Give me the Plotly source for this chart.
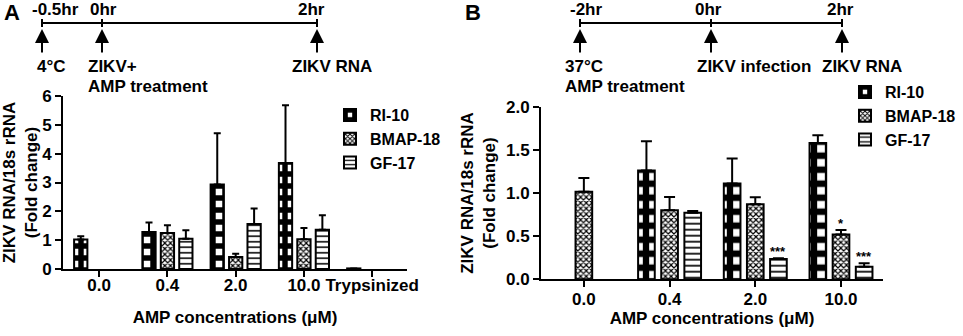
import plotly.graph_objects as go

# ---------------- data ----------------
series_names = ["RI-10", "BMAP-18", "GF-17"]

categories_A = ["0.0", "0.4", "2.0", "10.0", "Trypsinized"]
ri10_A = [1.02, 1.28, 2.93, 3.68, 0.02]
ri10_A_err = [0.12, 0.33, 1.78, 2.0, 0.0]
bmap_A = [None, 1.25, 0.42, 1.03, None]
bmap_A_err = [0.0, 0.27, 0.11, 0.39, 0.0]
gf_A = [None, 1.05, 1.56, 1.36, None]
gf_A_err = [0.0, 0.29, 0.54, 0.50, 0.0]

categories_B = ["0.0", "0.4", "2.0", "10.0"]
ri10_B = [None, 1.26, 1.11, 1.58]
ri10_B_err = [0.0, 0.34, 0.29, 0.09]
bmap_B = [1.015, 0.80, 0.87, 0.52]
bmap_B_err = [0.16, 0.155, 0.08, 0.05]
gf_B = [None, 0.77, 0.235, 0.145]
gf_B_err = [0.0, 0.02, 0.01, 0.04]

stars_B_bmap = ["", "", "", "*"]
stars_B_gf = ["", "", "***", "***"]

yticks_A = [0, 1, 2, 3, 4, 5, 6]
yticks_B = [0.0, 0.5, 1.0, 1.5, 2.0]

timeline_A = ["-0.5hr", "0hr", "2hr"]
timeline_A_labels = [["4°C"], ["ZIKV+", "AMP treatment"], ["ZIKV RNA"]]
timeline_B = ["-2hr", "0hr", "2hr"]
timeline_B_labels = [["37°C", "AMP treatment"], ["ZIKV infection"], ["ZIKV RNA"]]

# ---------------- styling ----------------
W, H = 963, 336
FONT = "Liberation Sans"
FS = 17

def pats(check_size, fine_size, line_size):
    return [
        dict(shape="+", size=check_size, solidity=0.7, fgcolor="black", bgcolor="white"),
        dict(shape="x", size=fine_size, solidity=0.5, fgcolor="black", bgcolor="white"),
        dict(shape="-", size=line_size, solidity=0.28, fgcolor="black", bgcolor="white"),
    ]

def px(x):
    return x / W

def py(y):
    return 1 - y / H

fig = go.Figure()

def add_panel(cats, vals, errs, xa, ya, legend, cap, patterns):
    for name, v, e, pat in zip(series_names, vals, errs, patterns):
        fig.add_trace(go.Bar(
            x=cats, y=v, name=name,
            xaxis=xa, yaxis=ya, legend=legend,
            marker=dict(color="white", line=dict(color="black", width=2), pattern=pat),
            error_y=dict(type="data", symmetric=False, array=e,
                         arrayminus=[0] * len(e), color="black",
                         thickness=2, width=cap),
        ))

add_panel(categories_A, [ri10_A, bmap_A, gf_A], [ri10_A_err, bmap_A_err, gf_A_err],
          "x", "y", "legend", 3.5, pats(12, 4, 5.5))
add_panel(categories_B, [ri10_B, bmap_B, gf_B], [ri10_B_err, bmap_B_err, gf_B_err],
          "x2", "y2", "legend2", 5.5, pats(14, 4, 6))

dom_A_x = [px(63), px(407)]
dom_A_y = [py(269), py(96)]
dom_B_x = [px(541), px(883)]
dom_B_y = [py(279.3), py(106.7)]

tickfont = dict(family=FONT, size=FS, color="black", weight="bold")
titlefont = dict(family=FONT, size=FS, color="black", weight="bold")
legfont = dict(family=FONT, size=16, color="black", weight="bold")

axis_common = dict(showline=True, linecolor="black", linewidth=2, ticks="outside",
                   tickwidth=2, ticklen=6, tickcolor="black", showgrid=False,
                   zeroline=False, tickfont=tickfont, automargin=False)

xr_A = [-0.53, 4.51]
xr_B = [-0.5, 3.49]

fig.update_layout(
    template="none",
    width=W, height=H, margin=dict(l=0, r=0, t=0, b=0, autoexpand=False),
    paper_bgcolor="white", plot_bgcolor="white",
    font=dict(family=FONT, size=FS, color="black", weight="bold"),
    barmode="group", bargap=0.19, bargroupgap=0.28,
    xaxis=dict(domain=dom_A_x, anchor="y", type="category", range=xr_A,
               ticklabelstandoff=-6,
               title=dict(text="AMP concentrations (μM)", font=titlefont, standoff=17),
               **axis_common),
    yaxis=dict(domain=dom_A_y, anchor="x", range=[0, 6], tickvals=yticks_A,
               title=dict(text="ZIKV RNA/18s rRNA<br>(Fold change)", font=titlefont, standoff=6),
               **axis_common),
    xaxis2=dict(domain=dom_B_x, anchor="y2", type="category", range=xr_B,
                ticklabelstandoff=-3,
                title=dict(text="AMP concentrations (μM)", font=titlefont, standoff=4),
                **axis_common),
    yaxis2=dict(domain=dom_B_y, anchor="x2", range=[0, 2], tickvals=yticks_B,
                tickformat=".1f",
                title=dict(text="ZIKV RNA/18s rRNA<br>(Fold change)", font=titlefont, standoff=6),
                **axis_common),
    legend=dict(x=px(330), y=py(98), xanchor="left", yanchor="top",
                font=legfont, bgcolor="rgba(0,0,0,0)", tracegroupgap=0),
    legend2=dict(x=px(845), y=py(75), xanchor="left", yanchor="top",
                 font=legfont, bgcolor="rgba(0,0,0,0)", tracegroupgap=0),
    showlegend=True,
)

# significance stars (panel B), shifted to the bar slot
slot_B = (dom_B_x[1] - dom_B_x[0]) * W / (xr_B[1] - xr_B[0]) * (1 - 0.19) / 3
for vals, errs, stars, k in [
    (bmap_B, bmap_B_err, stars_B_bmap, 0),
    (gf_B, gf_B_err, stars_B_gf, 1),
]:
    for i, (v, e, s) in enumerate(zip(vals, errs, stars)):
        if s:
            fig.add_annotation(x=i, y=v + e, xref="x2", yref="y2", text=s,
                               showarrow=False, yanchor="bottom", xshift=k * slot_B,
                               yshift=-3, font=dict(family=FONT, size=13, weight="bold"))

# panel letters
fig.add_annotation(x=px(2), y=py(13), xref="paper", yref="paper", text="A",
                   showarrow=False, xanchor="left", yanchor="middle",
                   font=dict(family=FONT, size=22, weight="bold"))
fig.add_annotation(x=px(463), y=py(13), xref="paper", yref="paper", text="B",
                   showarrow=False, xanchor="left", yanchor="middle",
                   font=dict(family=FONT, size=22, weight="bold"))

# timelines
def timeline(xs, times, time_centers, labels, label_left, ytime=9, yline=23):
    fig.add_shape(type="line", xref="paper", yref="paper",
                  x0=px(xs[0]), x1=px(xs[-1]), y0=py(yline), y1=py(yline),
                  line=dict(color="black", width=2))
    for x, t, tc, lab, ll in zip(xs, times, time_centers, labels, label_left):
        fig.add_shape(type="line", xref="paper", yref="paper",
                      x0=px(x), x1=px(x), y0=py(yline - 4), y1=py(yline + 4),
                      line=dict(color="black", width=2))
        fig.add_annotation(x=px(tc), y=py(ytime), xref="paper", yref="paper", text=t,
                           showarrow=False, xanchor="center", yanchor="middle",
                           font=dict(family=FONT, size=FS, weight="bold"))
        fig.add_annotation(x=px(x), y=py(29), xref="paper", yref="paper", text="",
                           showarrow=True, arrowhead=2, arrowsize=1.4, arrowwidth=2,
                           arrowcolor="black", ax=0, ay=25)
        for j, line in enumerate(lab):
            fig.add_annotation(x=px(ll), y=py(67 + 19 * j), xref="paper", yref="paper",
                               text=line, showarrow=False, xanchor="left",
                               yanchor="middle", align="left",
                               font=dict(family=FONT, size=FS, weight="bold"))

timeline([42, 102, 317], timeline_A, [55, 103, 311], timeline_A_labels, [35, 86, 290])
timeline([580, 711, 842], timeline_B, [586, 708, 840], timeline_B_labels, [563, 695, 820])

fig.write_html("out.html", config={"displayModeBar": False},
               post_script="document.body.style.margin='0px';")
